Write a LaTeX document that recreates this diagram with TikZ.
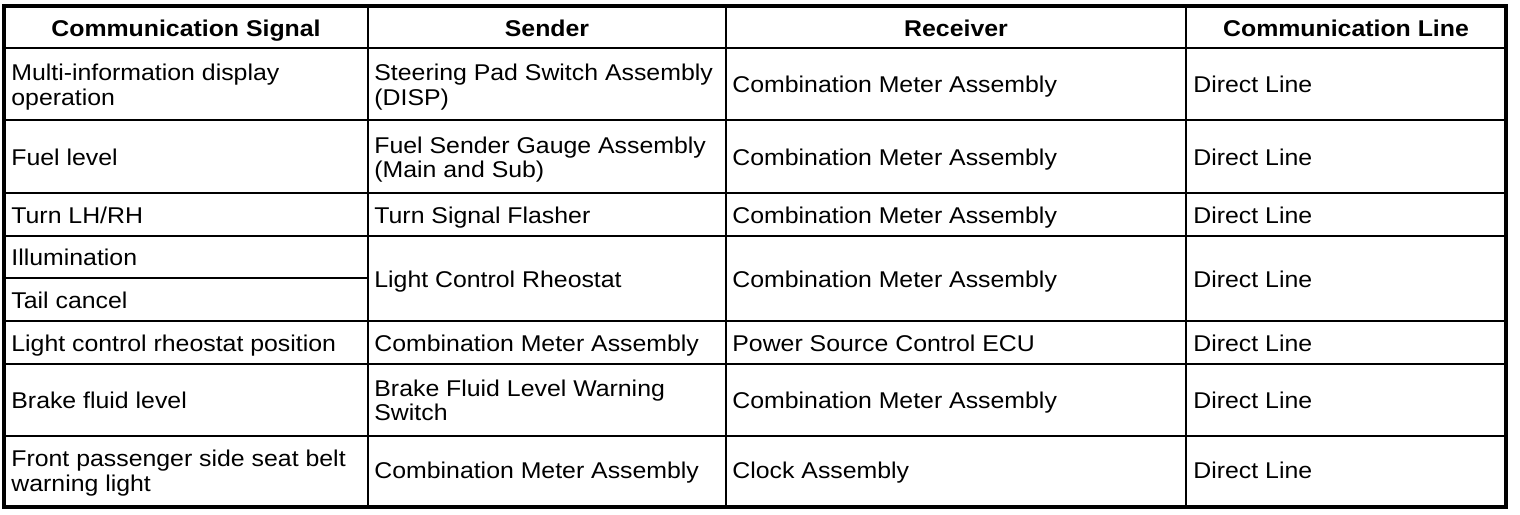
\documentclass[tikz,border=0pt]{standalone}
\usepackage{fontspec}
\setmainfont{Liberation Sans}[FakeStretch=1.09]
\newcommand\cellstrut{\rule[-2.52pt]{0pt}{10.68pt}}
\begin{document}
\begin{tikzpicture}[x=0.5pt,y=-0.5pt,
  cell/.style={anchor=west,inner sep=0pt,align=left,yshift=-1.6pt,
    font=\fontsize{11.4}{12.3}\selectfont,
    execute at begin node=\cellstrut,execute at end node=\cellstrut},
  head/.style={inner sep=0pt,yshift=-1.6pt,font=\fontsize{11.4}{12.3}\selectfont\bfseries,
    execute at begin node=\cellstrut},
  gridline/.style={line width=0.9pt,black},
  frameline/.style={line width=2pt,black}]
\useasboundingbox (0,0) rectangle (1520,514);
% grid
\foreach \y in {48,120,193,236,321,364,436}
  \draw[gridline] (3.5,\y) -- (1506,\y);
\draw[gridline] (3.5,278) -- (368,278);
\foreach \x in {368,726,1186}
  \draw[gridline] (\x,6) -- (\x,507);
\draw[frameline] (3.5,6) rectangle (1506,507);
% header
\node[head] (h1) at (186,28) {Communication Signal};
\node[head] (h2) at (547,28) {Sender};
\node[head] (h3) at (956,28) {Receiver};
\node[head] (h4) at (1346,28) {Communication Line};
% row 1
\node[cell] (a1) at (11,84) {Multi-information display\\operation};
\node[cell] (b1) at (374,84) {Steering Pad Switch Assembly\\(DISP)};
\node[cell] (c1) at (732,84) {Combination Meter Assembly};
\node[cell] (d1) at (1193,84) {Direct Line};
% row 2
\node[cell] (a2) at (11,156.5) {Fuel level};
\node[cell] (b2) at (374,156.5) {Fuel Sender Gauge Assembly\\(Main and Sub)};
\node[cell] (c2) at (732,156.5) {Combination Meter Assembly};
\node[cell] (d2) at (1193,156.5) {Direct Line};
% row 3
\node[cell] (a3) at (11,214.5) {Turn LH/RH};
\node[cell] (b3) at (374,214.5) {Turn Signal Flasher};
\node[cell] (c3) at (732,214.5) {Combination Meter Assembly};
\node[cell] (d3) at (1193,214.5) {Direct Line};
% row 4
\node[cell] (a4) at (11,257) {Illumination};
\node[cell] (a4b) at (11,299.5) {Tail cancel};
\node[cell] (b4) at (374,278.5) {Light Control Rheostat};
\node[cell] (c4) at (732,278.5) {Combination Meter Assembly};
\node[cell] (d4) at (1193,278.5) {Direct Line};
% row 5
\node[cell] (a5) at (11,342.5) {Light control rheostat position};
\node[cell] (b5) at (374,342.5) {Combination Meter Assembly};
\node[cell] (c5) at (732,342.5) {Power Source Control ECU};
\node[cell] (d5) at (1193,342.5) {Direct Line};
% row 6
\node[cell] (a6) at (11,399.5) {Brake fluid level};
\node[cell] (b6) at (374,399.5) {Brake Fluid Level Warning\\Switch};
\node[cell] (c6) at (732,399.5) {Combination Meter Assembly};
\node[cell] (d6) at (1193,399.5) {Direct Line};
% row 7
\node[cell] (a7) at (11,470) {Front passenger side seat belt\\warning light};
\node[cell] (b7) at (374,470) {Combination Meter Assembly};
\node[cell] (c7) at (732,470) {Clock Assembly};
\node[cell] (d7) at (1193,470) {Direct Line};
\end{tikzpicture}
\end{document}
